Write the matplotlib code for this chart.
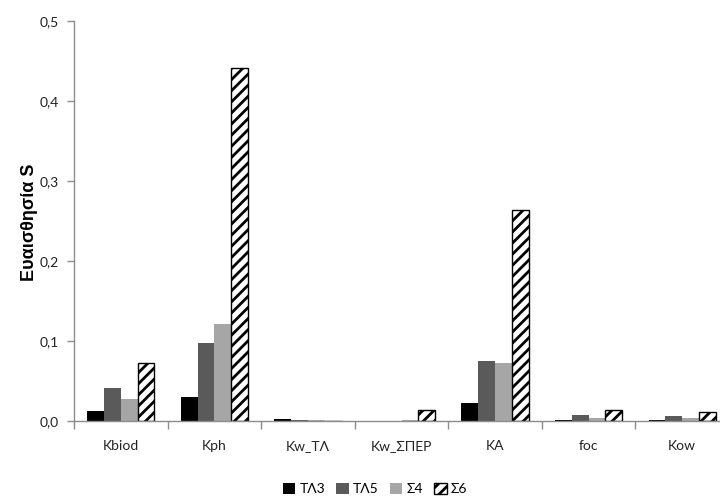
import numpy as np
import matplotlib
matplotlib.use("Agg")
import matplotlib.pyplot as plt
from matplotlib.ticker import FixedLocator

plt.rcParams['font.family'] = ['Lato', 'DejaVu Sans']
plt.rcParams['hatch.linewidth'] = 2.0

categories = ["Kbiod", "Kph", "Kw_ΤΛ", "Kw_ΣΠΕΡ", "KA", "foc", "Kow"]
series_names = ["ΤΛ3", "ΤΛ5", "Σ4", "Σ6"]
tl3 = [0.0125, 0.030, 0.002, 0.0, 0.023, 0.001, 0.001]
tl5 = [0.041, 0.097, 0.0015, 0.0, 0.075, 0.0075, 0.006]
s4 = [0.027, 0.121, 0.001, 0.001, 0.073, 0.004, 0.004]
s6 = [0.073, 0.441, 0.0, 0.0137, 0.264, 0.0137, 0.011]
y_ticks = [0.0, 0.1, 0.2, 0.3, 0.4, 0.5]
y_tick_labels = ["0,0", "0,1", "0,2", "0,3", "0,4", "0,5"]

fig = plt.figure(figsize=(7.2, 4.96), dpi=100)
ax = fig.add_axes([74 / 720, 75 / 496, 655 / 720, 400 / 496])

x = np.arange(len(categories))
w = 0.18
styles = [
    dict(color="#000000"),
    dict(color="#5a5a5a"),
    dict(color="#a6a6a6"),
    dict(facecolor="white", edgecolor="black", hatch="///", linewidth=1.0),
]
for i, (vals, st, name) in enumerate(zip([tl3, tl5, s4, s6], styles, series_names)):
    ax.bar(x + (i - 1.5) * w, vals, width=w, label=name, **st)

ax.set_xlim(-0.5, len(categories) - 0.5)
ax.set_ylim(0, 0.5)
ax.set_yticks(y_ticks)
ax.set_yticklabels(y_tick_labels)

ax.set_xticks(x)
ax.set_xticklabels(categories)
ax.xaxis.set_minor_locator(FixedLocator(np.arange(-0.5, len(categories), 1.0)))
ax.tick_params(axis="x", which="major", length=0, pad=14, labelsize=10, labelcolor="#222222")
ax.tick_params(axis="x", which="minor", length=6, color="#8c8c8c", width=1)
ax.tick_params(axis="y", length=5, color="#8c8c8c", width=1, labelsize=10,
               labelcolor="#222222", pad=6)

for side in ("top", "right"):
    ax.spines[side].set_visible(False)
for side in ("left", "bottom"):
    ax.spines[side].set_color("#8c8c8c")
    ax.spines[side].set_linewidth(1)

fig.text(30 / 720, (496 - 222) / 496, "Ευαισθησία S",
         rotation=90, ha="center", va="center", fontsize=13, fontweight="bold",
         family=["Liberation Sans", "DejaVu Sans"])

fig.legend(loc="center", bbox_to_anchor=(375 / 720, 7 / 496), ncol=4, frameon=False,
           fontsize=10, handlelength=0.9, handleheight=0.9, handletextpad=0.3,
           columnspacing=0.8)

fig.savefig("out.png", dpi=100)
